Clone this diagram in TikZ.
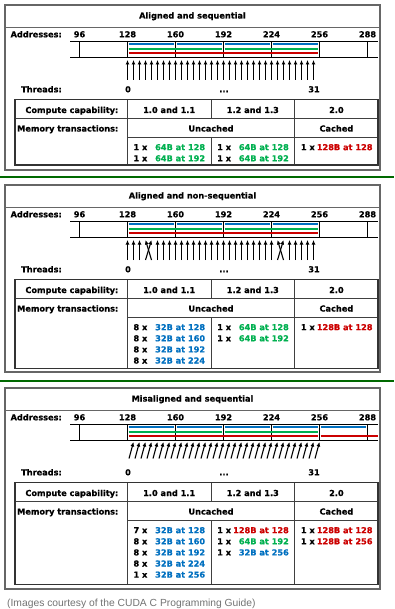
\documentclass[tikz,border=0pt]{standalone}
\usepackage{fontspec}
\setmainfont{DejaVu Sans}[BoldFeatures={FakeBold=0.6}]
\setsansfont{Liberation Sans}
\usetikzlibrary{arrows.meta}
\definecolor{cblue}{RGB}{0,112,192}
\definecolor{cgreen}{RGB}{0,176,80}
\definecolor{cred}{RGB}{204,0,0}
\definecolor{sepgreen}{RGB}{0,105,0}
\tikzset{
  txt/.style={font=\fontsize{8.2}{9}\selectfont\bfseries, inner sep=0pt, anchor=base},
  frame/.style={draw=black!60, line width=1.2pt},
  tab/.style={draw=black!80, line width=1.4pt},
  grid/.style={draw=black!75, line width=0.8pt},
  bar/.style={draw=black, line width=0.8pt},
  mem/.style={line width=1.8pt},
  thr/.style={line width=1.1pt, -{Latex[length=4.5pt,width=4pt]}},
  sep/.style={draw=sepgreen, line width=2pt},
}
\newcommand\addrx[1]{127.5+(#1-128)*1.5}
\newcommand\panelhead[3]{%
  \draw[frame] (5,5) rectangle (380,#3);
  \draw[frame] (5,27.5) -- (380,27.5);
  \node[txt] (#1title) at (192.5,18.5) {#2};
  \node[txt,anchor=base east] (#1addr) at (62,37.3) {Addresses:};
  \foreach \a in {96,128,...,288} {\node[txt] (#1a\a) at ({\addrx{\a}},37.3) {\a};}
  \draw[bar] (70,41.5) -- (378,41.5) (70,57.5) -- (378,57.5);
  \foreach \a in {96,128,...,288} {\draw[bar] ({\addrx{\a}},41.5) -- ({\addrx{\a}},57.5);}
  \node[txt,anchor=base east] (#1thr) at (62,92.3) {Threads:};
  \node[txt] (#1t0) at (128,92.3) {0};
  \node[txt] (#1tdots) at (224,92.3) {...};
  \node[txt] (#1t31) at (314,92.3) {31};
}
\newcommand\seg[4]{\draw[mem,#1] ({\addrx{#3}+1},#2) -- ({\addrx{#4}-1.5},#2);}
\newcommand\tablegrid[2]{%
  \draw[grid] (15,118) -- (378,118);
  \draw[grid] (127.3,137) -- (378,137);
  \draw[grid] (127.3,99.5) -- (127.3,#2);
  \draw[grid] (211,99.5) -- (211,118) (211,137) -- (211,#2);
  \draw[grid] (294.7,99.5) -- (294.7,#2);
  \draw[tab] (15,99.5) rectangle (378,#2);
  \node[txt,anchor=base east] (#1cc) at (118.5,113) {Compute capability:};
  \node[txt] (#1c1) at (169.2,113) {1.0 and 1.1};
  \node[txt] (#1c2) at (252.8,113) {1.2 and 1.3};
  \node[txt] (#1c3) at (336.4,113) {2.0};
  \node[txt,anchor=base east] (#1mt) at (118.5,131.5) {Memory transactions:};
  \node[txt] (#1unc) at (211,131.5) {Uncached};
  \node[txt] (#1cac) at (336.4,131.5) {Cached};
}
% #1 name, #2 cell left, #3 line index, #4 count, #5 colour, #6 text
\newcommand\entry[6]{%
  \node[txt,anchor=base west] (#1n) at ({#2+6},{150.2+#3*11.1}) {#4 x};
  \node[txt,anchor=base east,text=#5] (#1v) at ({#2+78},{150.2+#3*11.1}) {#6};
}
\begin{document}
\begin{tikzpicture}[x=1pt,y=-1pt]
\useasboundingbox (0,0) rectangle (394,609);
\fill[white] (0,0) rectangle (394,609);
% ---------- panel 1 ----------
\begin{scope}
  \panelhead{p1}{Aligned and sequential}{170}
  \foreach \a in {128,160,192,224} {\seg{cblue}{44.3}{\a}{\a+32}}
  \seg{cgreen}{48.7}{128}{192}\seg{cgreen}{48.7}{192}{256}
  \seg{cred}{53}{128}{256}
  \foreach \i in {0,...,31} {\draw[thr] ({127.5+6*\i},80) -- ({127.5+6*\i},60);}
  \tablegrid{p1}{165}
  \entry{p1a}{127.3}{0}{1}{cgreen}{64B at 128}
  \entry{p1b}{127.3}{1}{1}{cgreen}{64B at 192}
  \entry{p1c}{211}{0}{1}{cgreen}{64B at 128}
  \entry{p1d}{211}{1}{1}{cgreen}{64B at 192}
  \entry{p1e}{294.7}{0}{1}{cred}{128B at 128}
\end{scope}
\draw[sep] (0,177.3) -- (394,177.3);
% ---------- panel 2 ----------
\begin{scope}[yshift=-180pt]
  \panelhead{p2}{Aligned and non-sequential}{192}
  \foreach \a in {128,160,192,224} {\seg{cblue}{44.3}{\a}{\a+32}}
  \seg{cgreen}{48.7}{128}{192}\seg{cgreen}{48.7}{192}{256}
  \seg{cred}{53}{128}{256}
  \foreach \i in {0,1,2,5,6,...,24,27,28,29,30,31} {\draw[thr] ({127.5+6*\i},80) -- ({127.5+6*\i},60);}
  \foreach \i in {3,25} {
    \draw[thr] ({127.5+6*\i},80) -- ({133.5+6*\i},60);
    \draw[thr] ({133.5+6*\i},80) -- ({127.5+6*\i},60);
  }
  \tablegrid{p2}{188.3}
  \entry{p2a}{127.3}{0}{8}{cblue}{32B at 128}
  \entry{p2b}{127.3}{1}{8}{cblue}{32B at 160}
  \entry{p2c}{127.3}{2}{8}{cblue}{32B at 192}
  \entry{p2d}{127.3}{3}{8}{cblue}{32B at 224}
  \entry{p2e}{211}{0}{1}{cgreen}{64B at 128}
  \entry{p2f}{211}{1}{1}{cgreen}{64B at 192}
  \entry{p2g}{294.7}{0}{1}{cred}{128B at 128}
\end{scope}
\draw[sep] (0,380.7) -- (394,380.7);
% ---------- panel 3 ----------
\begin{scope}[yshift=-383pt]
  \panelhead{p3}{Misaligned and sequential}{206}
  \foreach \a in {128,160,192,224,256} {\seg{cblue}{44.3}{\a}{\a+32}}
  \seg{cgreen}{48.7}{128}{192}\seg{cgreen}{48.7}{192}{256}
  \seg{cred}{53}{128}{256}
  \draw[mem,cred] ({\addrx{256}+1},53) -- (378,53);
  \foreach \i in {0,...,31} {\draw[thr] ({129+6*\i},75.5) -- ({133.5+6*\i},59);}
  \tablegrid{p3}{201.3}
  \entry{p3a}{127.3}{0}{7}{cblue}{32B at 128}
  \entry{p3b}{127.3}{1}{8}{cblue}{32B at 160}
  \entry{p3c}{127.3}{2}{8}{cblue}{32B at 192}
  \entry{p3d}{127.3}{3}{8}{cblue}{32B at 224}
  \entry{p3e}{127.3}{4}{1}{cblue}{32B at 256}
  \entry{p3f}{211}{0}{1}{cred}{128B at 128}
  \entry{p3g}{211}{1}{1}{cgreen}{64B at 192}
  \entry{p3h}{211}{2}{1}{cblue}{32B at 256}
  \entry{p3i}{294.7}{0}{1}{cred}{128B at 128}
  \entry{p3j}{294.7}{1}{1}{cred}{128B at 256}
\end{scope}
\node[font=\sffamily\fontsize{10.3}{12}\selectfont, text=black!55, anchor=base west, inner sep=0pt] (cap) at (7,606.2) {(Images courtesy of the CUDA C Programming Guide)};
\end{tikzpicture}
\end{document}
